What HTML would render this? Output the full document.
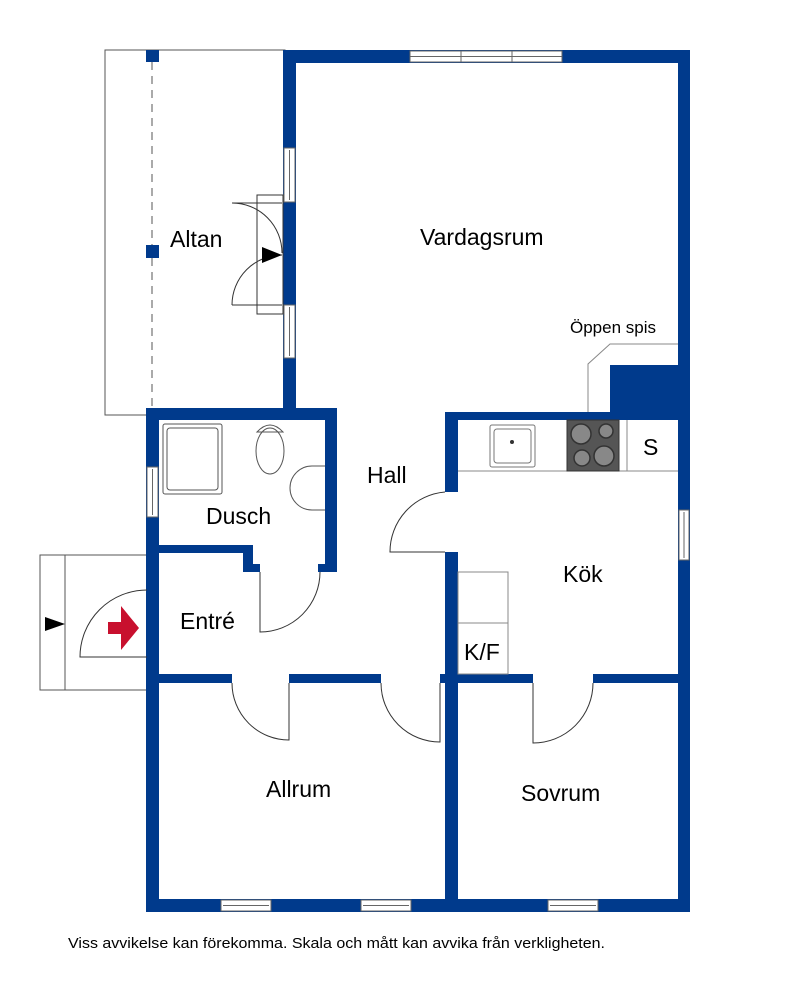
<!DOCTYPE html>
<html><head><meta charset="utf-8"><style>
html,body{margin:0;padding:0;background:#fff;}
svg{display:block;font-family:"Liberation Sans",Arial,sans-serif;}
</style></head><body>
<svg width="800" height="1004" viewBox="0 0 800 1004" xmlns="http://www.w3.org/2000/svg">
<rect x="105" y="50" width="180" height="365" fill="none" stroke="#555" stroke-width="1"/>
<line x1="152" y1="62" x2="152" y2="410" stroke="#555" stroke-dasharray="8,6"/>
<rect x="146" y="50" width="13" height="12" fill="#003a8c"/>
<rect x="146" y="245" width="13" height="13" fill="#003a8c"/>
<rect x="40" y="555" width="107" height="135" fill="none" stroke="#555"/>
<line x1="65" y1="555" x2="65" y2="690" stroke="#555"/>
<polygon points="45,617 65,624 45,631" fill="#000"/>
<g fill="#003a8c">
<rect x="283" y="50" width="407" height="13"/>
<rect x="678" y="50" width="12" height="862"/>
<rect x="146" y="899" width="544" height="13"/>
<rect x="283" y="50" width="13" height="370"/>
<rect x="146" y="408" width="191" height="12"/>
<rect x="146" y="408" width="13" height="504"/>
<rect x="325" y="408" width="12" height="164"/>
<rect x="318" y="564" width="19" height="8"/>
<rect x="159" y="545" width="93" height="8"/>
<rect x="243" y="545" width="10" height="27"/>
<rect x="243" y="564" width="17" height="8"/>
<rect x="445" y="412" width="13" height="80"/>
<rect x="445" y="552" width="13" height="360"/>
<rect x="445" y="412" width="245" height="8"/>
<rect x="610" y="365" width="80" height="50"/>
<rect x="146" y="674" width="86" height="9"/>
<rect x="289" y="674" width="92" height="9"/>
<rect x="440" y="674" width="93" height="9"/>
<rect x="593" y="674" width="97" height="9"/>
</g>
<g fill="#fff" stroke="#666" stroke-width="1">
<rect x="410" y="51" width="152" height="11"/>
<line x1="410" y1="56.5" x2="562" y2="56.5"/>
<line x1="461" y1="51" x2="461" y2="62"/><line x1="512" y1="51" x2="512" y2="62"/>
<rect x="284" y="148" width="11" height="54"/><line x1="289.5" y1="150" x2="289.5" y2="200"/>
<rect x="284" y="305" width="11" height="53"/><line x1="289.5" y1="307" x2="289.5" y2="356"/>
<rect x="147" y="467" width="11" height="50"/><line x1="152.5" y1="469" x2="152.5" y2="515"/>
<rect x="679" y="510" width="10" height="50"/><line x1="684" y1="512" x2="684" y2="558"/>
<rect x="221" y="900" width="50" height="11"/><line x1="223" y1="905.5" x2="269" y2="905.5"/>
<rect x="361" y="900" width="50" height="11"/><line x1="363" y1="905.5" x2="409" y2="905.5"/>
<rect x="548" y="900" width="50" height="11"/><line x1="550" y1="905.5" x2="596" y2="905.5"/>
</g>
<g fill="none" stroke="#333" stroke-width="1">
<rect x="257" y="195" width="26" height="119"/>
<path d="M232,203 A50,50 0 0 1 282,253"/><line x1="232" y1="203" x2="282" y2="203"/>
<path d="M232,305 A50,50 0 0 1 282,255"/><line x1="232" y1="305" x2="282" y2="305"/>
<path d="M147,590 A67,67 0 0 0 80,657 L147,657"/>
<path d="M260,572 L260,632 A60,60 0 0 0 320,572"/>
<path d="M445,492 A60,60 0 0 0 390,552 L445,552"/>
<path d="M232,683 A57,57 0 0 0 289,740 L289,683"/>
<path d="M381,683 A59,59 0 0 0 440,742 L440,683"/>
<path d="M533,683 L533,743 A60,60 0 0 0 593,683"/>
<line x1="458" y1="471" x2="678" y2="471" stroke="#888"/>
<line x1="627" y1="420" x2="627" y2="471" stroke="#888"/>
<rect x="490" y="425" width="45" height="42" rx="2" stroke="#777"/>
<rect x="494" y="429" width="37" height="34" rx="3" stroke="#777"/>
<rect x="458" y="572" width="50" height="102" stroke="#888"/>
<line x1="458" y1="623" x2="508" y2="623" stroke="#888"/>
<path d="M678,344 L610,344 L588,364 L588,412" stroke="#888"/>
<rect x="163" y="424" width="59" height="70" rx="2" stroke="#555"/>
<rect x="167" y="428" width="51" height="62" rx="3" stroke="#555"/>
<ellipse cx="270" cy="451" rx="14" ry="23" stroke="#555"/>
<path d="M257,432 Q270,418 283,432 Z" stroke="#555"/>
<path d="M325,466 L312,466 A18,18 0 0 0 312,510 L325,510" stroke="#555"/>
</g>
<circle cx="512" cy="442" r="2" fill="#333"/>
<rect x="567" y="420" width="52" height="51" fill="#555" stroke="#333"/>
<g fill="#888" stroke="#333" stroke-width="1.5">
<circle cx="581" cy="434" r="10"/><circle cx="606" cy="431" r="7"/>
<circle cx="582" cy="458" r="8"/><circle cx="604" cy="456" r="10"/>
</g>
<polygon points="108,622 121,622 121,606 139,628 121,650 121,634 108,634" fill="#c8102e"/>
<polygon points="262,247 282,255 262,263" fill="#000"/>
<g font-size="23" fill="#000">
<text x="170" y="247">Altan</text>
<text x="420" y="245">Vardagsrum</text>
<text x="367" y="483">Hall</text>
<text x="206" y="524">Dusch</text>
<text x="180" y="629">Entré</text>
<text x="563" y="582">Kök</text>
<text x="464" y="660">K/F</text>
<text x="643" y="455">S</text>
<text x="266" y="797">Allrum</text>
<text x="521" y="801">Sovrum</text>
</g>
<text x="570" y="333" font-size="17">Öppen spis</text>
<text x="68" y="948" font-size="15" textLength="537" lengthAdjust="spacingAndGlyphs">Viss avvikelse kan förekomma. Skala och mått kan avvika från verkligheten.</text>
</svg>
</body></html>
